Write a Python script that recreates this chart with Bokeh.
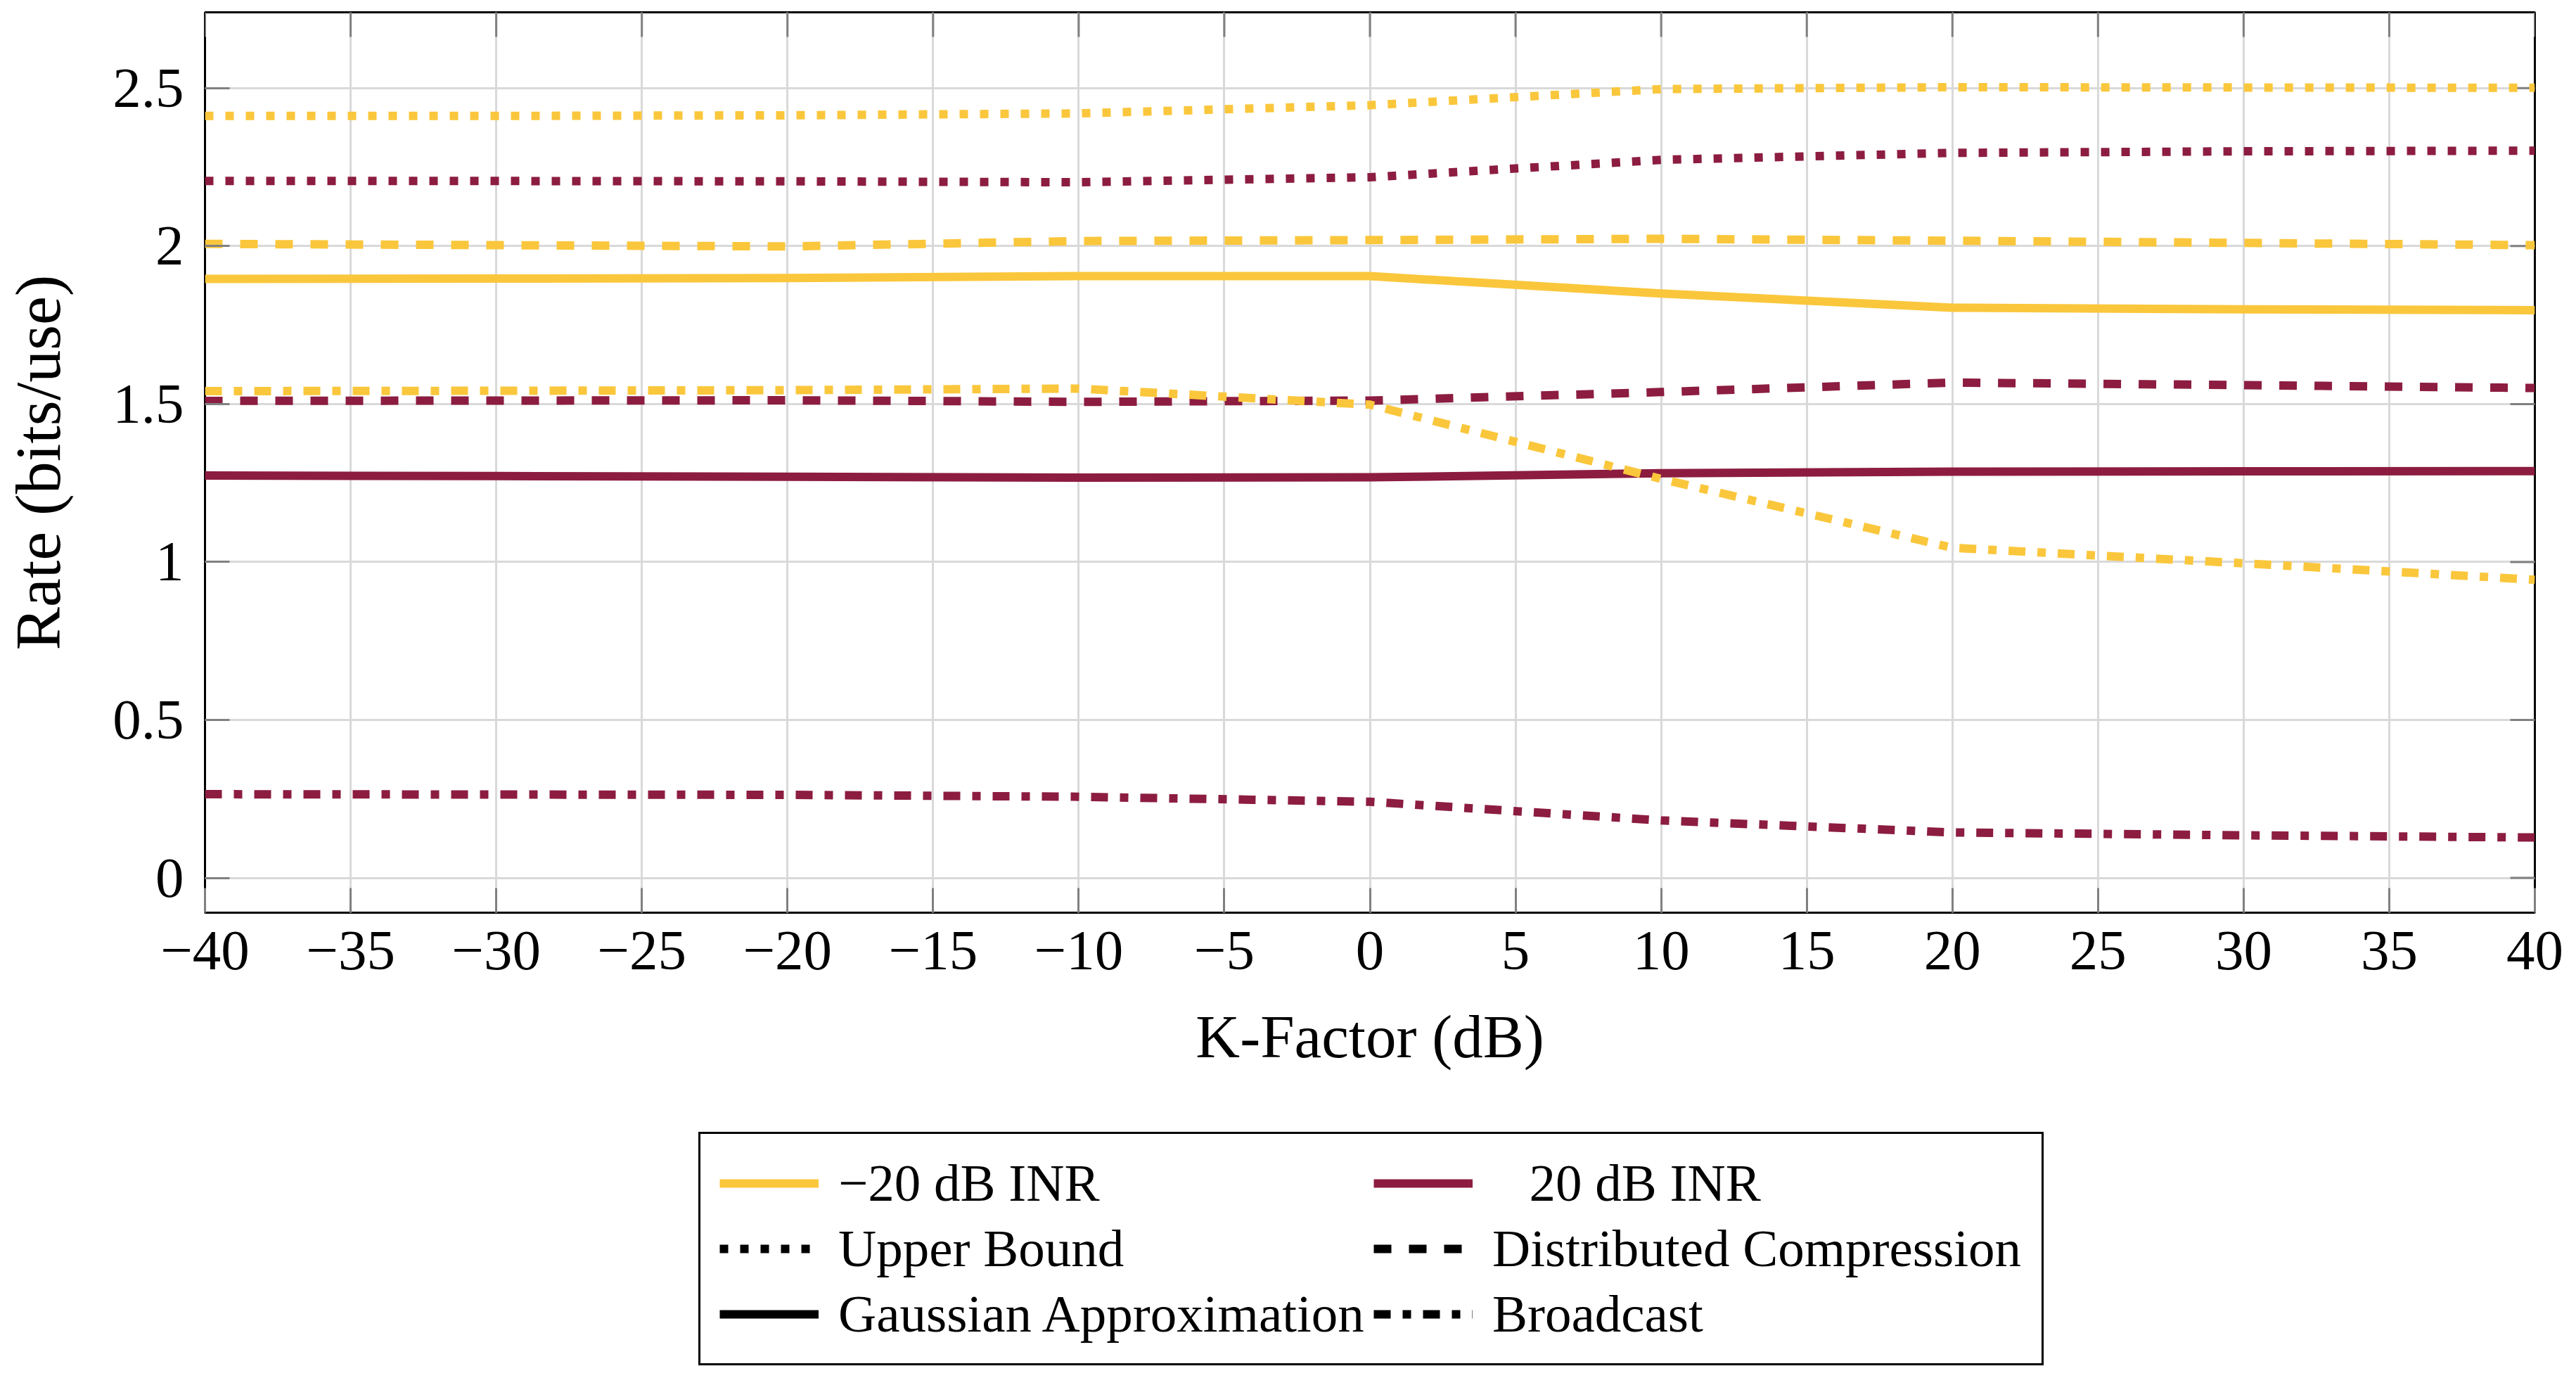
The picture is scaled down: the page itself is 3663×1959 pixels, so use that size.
from bokeh.plotting import figure
from bokeh.layouts import column
from bokeh.models import (Range1d, FixedTicker, Legend, LegendItem, ColumnDataSource)
from bokeh.embed import file_html
from bokeh.resources import INLINE

# ---------------- data ----------------
k_factor = [-40, -30, -20, -10, 0, 10, 20, 30, 40]

upper_low = [2.412, 2.412, 2.414, 2.420, 2.446, 2.497, 2.503, 2.502, 2.501]
upper_high = [2.206, 2.206, 2.205, 2.202, 2.218, 2.273, 2.295, 2.300, 2.302]
dist_low = [2.007, 2.003, 1.999, 2.016, 2.019, 2.023, 2.017, 2.010, 2.003]
dist_high = [1.510, 1.511, 1.512, 1.507, 1.511, 1.538, 1.568, 1.560, 1.551]
gauss_low = [1.896, 1.897, 1.899, 1.905, 1.905, 1.850, 1.805, 1.800, 1.797]
gauss_high = [1.274, 1.272, 1.270, 1.267, 1.268, 1.281, 1.286, 1.287, 1.288]
bcast_low = [1.541, 1.542, 1.544, 1.549, 1.498, 1.263, 1.045, 0.996, 0.944]
bcast_high = [0.265, 0.264, 0.263, 0.257, 0.241, 0.182, 0.144, 0.135, 0.128]

x_ticks = [-40, -35, -30, -25, -20, -15, -10, -5, 0, 5, 10, 15, 20, 25, 30, 35, 40]
x_tick_labels = ["\u221240", "\u221235", "\u221230", "\u221225", "\u221220", "\u221215",
                 "\u221210", "\u22125", "0", "5", "10", "15", "20", "25", "30", "35", "40"]
y_ticks = [0, 0.5, 1, 1.5, 2, 2.5]
y_tick_labels = ["0", "0.5", "1", "1.5", "2", "2.5"]

inr_labels = ["\u221220 dB INR", "\u2002\u200920 dB INR"]
method_labels = ["Upper Bound", "Distributed Compression", "Gaussian Approximation", "Broadcast"]

# ---------------- style ----------------
GOLD = "#FAC73C"
MAROON = "#8C1D40"
FONT = "Liberation Serif"
LW = 12
DOT = "12 17"
DASH = "25 25"
DASHDOT = "24 17 12 17"
SOLID = "solid"
X_MIN, X_MAX = -40, 40
Y_MIN, Y_MAX = -0.11, 2.74
FRAME_W, FRAME_H = 3313, 1280
BORDER_L, BORDER_R = 284, 47

p = figure(output_backend="svg", toolbar_location=None,
           frame_width=FRAME_W, frame_height=FRAME_H,
           min_border_left=BORDER_L, min_border_right=BORDER_R,
           min_border_top=17, min_border_bottom=300,
           x_range=Range1d(X_MIN, X_MAX), y_range=Range1d(Y_MIN, Y_MAX),
           background_fill_color="white", border_fill_color="white")

p.outline_line_color = "black"
p.outline_line_width = 3

# grid
p.xgrid.ticker = FixedTicker(ticks=x_ticks)
p.ygrid.ticker = FixedTicker(ticks=y_ticks)
for g in (p.xgrid, p.ygrid):
    g.grid_line_color = "#d9d9d9"
    g.grid_line_width = 3

# axes
def style_axis(ax, ticks, labels, label_size):
    ax.ticker = FixedTicker(ticks=ticks)
    ax.axis_line_color = None
    ax.major_tick_in = 35
    ax.major_tick_out = 0
    ax.major_tick_line_color = "#808080"
    ax.major_tick_line_width = 3
    ax.minor_tick_line_color = None
    ax.major_label_overrides = {t: l for t, l in zip(ticks, labels)}
    ax.major_label_text_font = FONT
    ax.major_label_text_font_size = "81px"
    ax.major_label_text_color = "black"
    ax.axis_label_text_font = FONT
    ax.axis_label_text_font_size = label_size
    ax.axis_label_text_font_style = "normal"
    ax.axis_label_text_color = "black"

style_axis(p.xaxis[0], x_ticks, x_tick_labels, "87px")
style_axis(p.yaxis[0], y_ticks, y_tick_labels, "92px")
p.xaxis[0].axis_label = "K-Factor (dB)"
p.yaxis[0].axis_label = "Rate (bits/use)"
p.xaxis[0].major_label_standoff = 27
p.xaxis[0].axis_label_standoff = 44
p.yaxis[0].major_label_standoff = 30
p.yaxis[0].axis_label_standoff = 52

# tick marks on the top and right edges (mirrored, pointing inward)
tick_len_x = 35 * (X_MAX - X_MIN) / FRAME_W
tick_len_y = 35 * (Y_MAX - Y_MIN) / FRAME_H
p.segment(x0=x_ticks, y0=[Y_MAX] * len(x_ticks), x1=x_ticks,
          y1=[Y_MAX - tick_len_y] * len(x_ticks), line_color="#808080", line_width=3)
p.segment(x0=[X_MAX] * len(y_ticks), y0=y_ticks, x1=[X_MAX - tick_len_x] * len(y_ticks),
          y1=y_ticks, line_color="#808080", line_width=3)

# data lines (20 dB INR first, then -20 dB INR)
series = [
    (upper_high, MAROON, DOT), (dist_high, MAROON, DASH),
    (gauss_high, MAROON, SOLID), (bcast_high, MAROON, DASHDOT),
    (upper_low, GOLD, DOT), (dist_low, GOLD, DASH),
    (gauss_low, GOLD, SOLID), (bcast_low, GOLD, DASHDOT),
]
for ys, col, dash in series:
    p.line(k_factor, ys, line_color=col, line_width=LW, line_dash=dash,
           line_cap="butt", line_join="miter")

# ---------------- legend (separate strip below the chart) ----------------
pl = figure(output_backend="svg", toolbar_location=None,
            frame_width=FRAME_W, height=350,
            x_axis_type=None, y_axis_type=None,
            x_range=Range1d(0, 1), y_range=Range1d(0, 1),
            min_border_left=BORDER_L, min_border_right=BORDER_R,
            min_border_top=0, min_border_bottom=0, outline_line_color=None,
            background_fill_color="white", border_fill_color="white")

NAN = float("nan")

def proxy(color, dash):
    # legend-only renderer: a single NaN point, so nothing is drawn in the frame
    return pl.line(x="x", y="y", source=ColumnDataSource(dict(x=[NAN], y=[NAN])),
                   line_color=color, line_width=LW, line_dash=dash, line_cap="butt")

r_low = proxy(GOLD, SOLID)
r_high = proxy(MAROON, SOLID)
r_ub = proxy("black", DOT)
r_dc = proxy("black", DASH)
r_ga = proxy("black", SOLID)
r_bc = proxy("black", DASHDOT)

items = [
    LegendItem(label=inr_labels[0], renderers=[r_low]),
    LegendItem(label=inr_labels[1], renderers=[r_high]),
    LegendItem(label=method_labels[0], renderers=[r_ub]),
    LegendItem(label=method_labels[1], renderers=[r_dc]),
    LegendItem(label=method_labels[2], renderers=[r_ga]),
    LegendItem(label=method_labels[3], renderers=[r_bc]),
]
legend = Legend(items=items, orientation="horizontal", ncols=2, location=(702, 6))
legend.label_text_font = FONT
legend.label_text_font_size = "75px"
legend.label_text_color = "black"
legend.glyph_width = 141
legend.glyph_height = 40
legend.label_standoff = 28
legend.label_width = 754
legend.padding = 27
legend.spacing = 7
legend.margin = 0
legend.border_line_color = "black"
legend.border_line_alpha = 1.0
legend.border_line_width = 3
legend.background_fill_color = "white"
legend.background_fill_alpha = 1.0
pl.add_layout(legend, "center")

layout = column(p, pl, spacing=0)
open("out.html", "w").write(file_html(layout, INLINE))
